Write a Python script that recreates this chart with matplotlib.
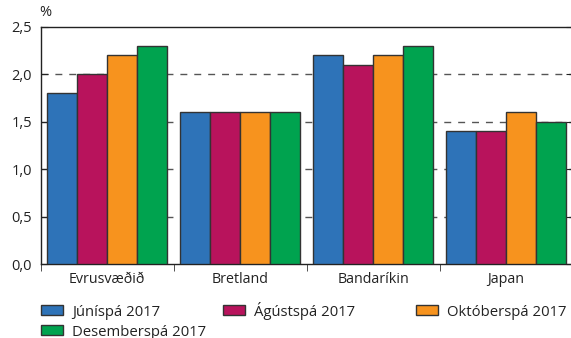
import matplotlib
matplotlib.use("Agg")
import matplotlib.pyplot as plt
import numpy as np
from matplotlib.patches import Rectangle

plt.rcParams['font.family'] = ['Open Sans', 'DejaVu Sans']

categories = ["Evrusvæðið", "Bretland", "Bandaríkin", "Japan"]
series_names = ["Júníspá 2017", "Ágústspá 2017", "Októberspá 2017", "Desemberspá 2017"]
jun = [1.8, 1.6, 2.2, 1.4]
agu = [2.0, 1.6, 2.1, 1.4]
okt = [2.2, 1.6, 2.2, 1.6]
des = [2.3, 1.6, 2.3, 1.5]
yticks = [0.0, 0.5, 1.0, 1.5, 2.0, 2.5]
ytick_labels = ["0,0", "0,5", "1,0", "1,5", "2,0", "2,5"]
colors = ["#2E73B8", "#B8135C", "#F7931E", "#00A34F"]

W, H = 571, 338
fig = plt.figure(figsize=(W/100, H/100), dpi=100)
ax = fig.add_axes([40.5/W, 1-264/H, 532/W, (264-27)/H])

x = np.arange(len(categories))
w = 0.225
for i, (vals, c, name) in enumerate(zip([jun, agu, okt, des], colors, series_names)):
    ax.bar(x - 1.5*w + i*w, vals, width=w, color=c, edgecolor="#333333", linewidth=1.0, label=name, zorder=3)

ax.set_xlim(-0.5, 3.5)
ax.set_ylim(0, 2.5)
ax.set_yticks(yticks)
ax.set_yticklabels(ytick_labels, fontsize=10.5, color="#222222")
for yv in [0.5, 1.0, 1.5, 2.0]:
    ax.axhline(yv, color="#555555", linestyle=(0, (5, 5)), linewidth=1.0, zorder=1)

ax.set_xticks(x)
ax.set_xticklabels(categories, fontsize=10.3, color="#222222")
ax.tick_params(axis='x', which='major', length=0, pad=6)
ax.set_xticks(np.arange(-0.5, 4.0, 1.0), minor=True)
ax.tick_params(axis='x', which='minor', length=5, direction='out', color="#333333")
ax.tick_params(axis='y', which='major', direction='in', length=5, color="#222222", right=True, pad=6)

for s in ['left', 'top', 'bottom']:
    ax.spines[s].set_color("#222222")
    ax.spines[s].set_linewidth(1.0)
ax.spines['right'].set_visible(False)

fig.text(39/W, 1-13/H, "%", fontsize=10.5, color="#222222", ha='left', va='center')

# legend, placed as in the reference: three entries on row 1, one on row 2
# (handle left x, handle centre y, text baseline y) in pixels
legend_slots = [(41, 309.5, 315.5), (223, 309.5, 315.5), (416, 309.5, 315.5), (41, 330, 335.5)]
hw, hh = 22, 10
for (lx, ly, by), c, name in zip(legend_slots, colors, series_names):
    fig.add_artist(Rectangle((lx/W, 1-(ly+hh/2)/H), hw/W, hh/H, transform=fig.transFigure,
                             facecolor=c, edgecolor="#333333", linewidth=1.0))
    fig.text((lx+hw+9)/W, 1-by/H, name, fontsize=10.7, color="#222222", ha='left', va='baseline')

fig.savefig("out.png", dpi=100)
